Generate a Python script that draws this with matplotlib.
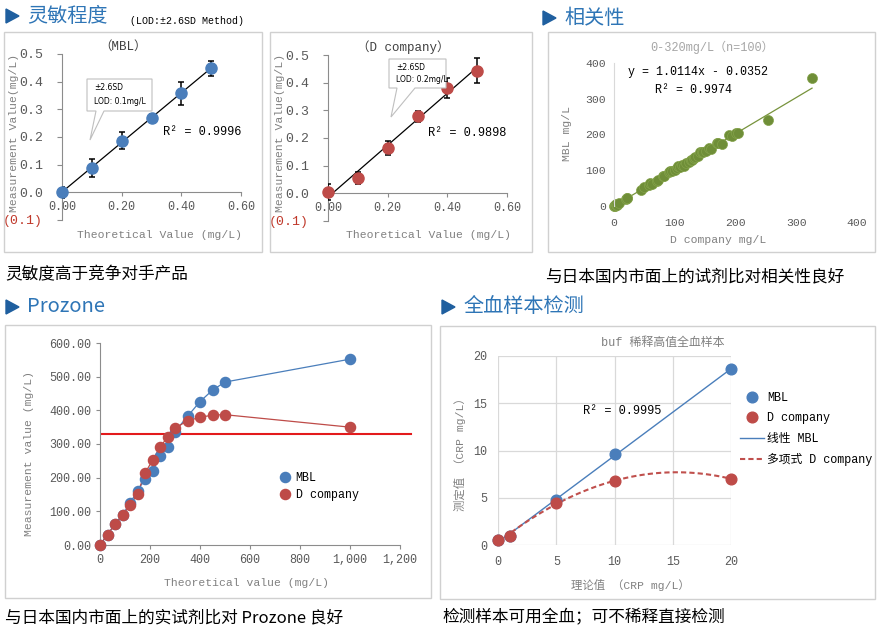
import numpy as np
import matplotlib
matplotlib.use('Agg')
import matplotlib.pyplot as plt
from matplotlib.patches import Polygon, Rectangle

plt.rcParams['font.family'] = ['Liberation Mono', 'Noto Sans CJK SC', 'DejaVu Sans']
plt.rcParams['font.size'] = 8.2
plt.rcParams['axes.unicode_minus'] = False

# ---- 灵敏程度 (LOD) ----
lod_x = [0, 0.1, 0.2, 0.3, 0.4, 0.5]
lod_mbl = [0.0, 0.088, 0.187, 0.269, 0.358, 0.449]
lod_mbl_err = [0.020, 0.031, 0.031, 0.015, 0.042, 0.027]
lod_dco = [0.004, 0.056, 0.163, 0.278, 0.381, 0.443]
lod_dco_err = [0.028, 0.021, 0.026, 0.020, 0.036, 0.046]

# ---- 相关性 ----
corr_dco = [0, 1, 2, 3, 4, 5, 8, 19, 21, 22, 45, 50, 57, 60, 62, 70, 72, 81, 83, 90,
            92, 95, 100, 103, 106, 108, 112, 115, 118, 124, 126, 128, 132, 134, 138,
            142, 145, 147, 152, 157, 160, 169, 172, 177, 190, 194, 201, 204, 253, 326]
corr_mbl = [0, 2, 1, 3, 5, 4, 7, 20, 21, 22, 45, 52, 60, 63, 62, 70, 72, 84, 85, 96,
            99, 97, 100, 105, 112, 108, 115, 113, 120, 124, 128, 130, 133, 138, 140,
            152, 150, 152, 155, 161, 160, 177, 175, 173, 198, 197, 203, 204, 240, 358]
corr_slope = 1.0114
corr_icpt = -0.0352

# ---- Prozone ----
pro_theo = [0, 30, 60, 90, 120, 150, 180, 210, 240, 270, 300, 350, 400, 450, 500, 1000]
pro_mbl = [0, 31, 62, 89, 125, 160, 197, 219, 263, 291, 337, 382, 426, 460, 484, 552]
pro_dco = [0, 31, 62, 89, 118, 152, 214, 251, 291, 320, 347, 369, 379, 386, 387, 350]
pro_cut = 330

# ---- 全血样本检测 ----
wb_theo = [0, 1, 5, 10, 20]
wb_mbl = [0.5, 0.9, 4.8, 9.6, 18.6]
wb_dco = [0.5, 0.9, 4.4, 6.8, 7.0]

BLUE = '#4A7EBB'
RED = '#BE4B48'
GREEN = '#77933C'
TICK = '#595959'
LABEL = '#808080'
SPINE = '#8C8C8C'
HEAD = '#2E75B6'
CJK = ['Noto Sans CJK SC', 'DejaVu Sans']

W, H = 881, 636
fig = plt.figure(figsize=(8.81, 6.36), dpi=100)


def px_axes(x0, y0, x1, y1):
    return fig.add_axes([x0 / W, 1 - y1 / H, (x1 - x0) / W, (y1 - y0) / H])


def lod_fmt(v):
    if v < -1e-9:
        return '({:.1f})'.format(-v)
    return '{:.1f}'.format(v)


def lod_panel(rect, y, err, color, title, tpos, r2, rpos, xl, yl):
    ax = px_axes(*rect)
    k, b = np.polyfit(lod_x, y, 1)
    xs = np.array([0, 0.5])
    ax.plot(xs, k * xs + b, color='black', lw=0.9, zorder=2)
    ax.errorbar(lod_x, y, yerr=err, fmt='none', ecolor='black', elinewidth=1.1,
                capsize=2.5, capthick=1.1, zorder=3)
    ax.plot(lod_x, y, 'o', ms=8, color=color, zorder=4, clip_on=False)
    ax.set_xlim(0, 0.6)
    ax.set_ylim(-0.1, 0.5)
    yt = [-0.1, 0, 0.1, 0.2, 0.3, 0.4, 0.5]
    ax.set_yticks(yt, labels=[lod_fmt(v) for v in yt])
    ax.yaxis.get_major_ticks()[0].label1.set_color('#C0392B')
    xt = [0, 0.2, 0.4, 0.6]
    ax.set_xticks(xt, labels=['{:.2f}'.format(v) for v in xt])
    ax.spines['bottom'].set_position(('data', 0))
    for s in ['top', 'right']:
        ax.spines[s].set_visible(False)
    for s in ['left', 'bottom']:
        ax.spines[s].set_color(SPINE)
    ax.tick_params(direction='out', length=3, color=SPINE, labelcolor=TICK, labelsize=8.5)
    ax.tick_params(axis='y', labelsize=9.5, length=3.6, pad=10)
    ax.yaxis.get_major_ticks()[0].label1.set_color('#C0392B')
    ax.text(tpos[0], tpos[1], title, transform=ax.transAxes, color='#404040', fontsize=9,
            ha='center', va='center')
    ax.text(rpos[0], rpos[1], r2, transform=ax.transAxes, fontsize=8.6, va='center')
    ax.set_xlabel('Theoretical Value (mg/L)', color=LABEL, va='center')
    ax.xaxis.set_label_coords(*xl)
    ax.set_ylabel('Measurement Value(mg/L)', color=LABEL, va='center')
    ax.yaxis.set_label_coords(*yl)
    return ax


ax1 = lod_panel((62, 54, 241, 220), lod_mbl, lod_mbl_err, BLUE, '（MBL）', (0.341, 1.042),
                'R² = 0.9996', (0.564, 0.53), (0.547, -0.09), (-0.27, 0.524))
ax2 = lod_panel((328, 55, 507, 221), lod_dco, lod_dco_err, RED, '（D company）', (0.419, 1.048),
                'R² = 0.9898', (0.559, 0.53), (0.559, -0.084), (-0.27, 0.53))

# correlation
ax3 = px_axes(614, 63, 857, 206)
xs = np.array([0, max(corr_dco)])
ax3.plot(xs, corr_slope * xs + corr_icpt, color=GREEN, lw=0.9, zorder=1)
ax3.scatter(corr_dco, corr_mbl, s=52, color='#6F8E38', edgecolor='#84A24A', lw=0.5,
            zorder=2, clip_on=False)
ax3.set_xlim(0, 400)
ax3.set_ylim(0, 400)
ax3.set_xticks([0, 100, 200, 300, 400])
ax3.set_yticks([0, 100, 200, 300, 400])
for s in ['top', 'right', 'bottom']:
    ax3.spines[s].set_visible(False)
ax3.spines['left'].set_color('#D9D9D9')
ax3.tick_params(length=0, labelcolor=TICK, pad=6)
ax3.tick_params(axis='x', pad=9)
ax3.text(0.403, 1.112, '0-320mg/L（n=100）', transform=ax3.transAxes, color='#A6A6A6',
         fontsize=8.6, ha='center', va='center')
ax3.text(0.058, 0.937, 'y = 1.0114x - 0.0352', transform=ax3.transAxes, va='center', fontsize=8.4)
ax3.text(0.169, 0.811, 'R² = 0.9974', transform=ax3.transAxes, va='center', fontsize=8.4)
ax3.set_xlabel('D company mg/L', color=LABEL, va='center')
ax3.xaxis.set_label_coords(0.428, -0.238)
ax3.set_ylabel('MBL mg/L', color=LABEL, va='center')
ax3.yaxis.set_label_coords(-0.193, 0.51)

# prozone
ax4 = px_axes(100, 343, 400, 545)
ax4.axhline(pro_cut, xmin=0.005, xmax=1.036, color='#E31A1C', lw=1.5, clip_on=False, zorder=1)
ax4.plot(pro_theo, pro_mbl, '-', color=BLUE, lw=0.9, zorder=2)
ax4.plot(pro_theo, pro_dco, '-', color=RED, lw=0.9, zorder=2)
ax4.plot(pro_theo, pro_mbl, 'o', ls='none', ms=7.3, color=BLUE, label='MBL', zorder=3, clip_on=False)
ax4.plot(pro_theo, pro_dco, 'o', ls='none', ms=7.3, color=RED, label='D company', zorder=4, clip_on=False)
ax4.set_xlim(0, 1200)
ax4.set_ylim(0, 600)
ax4.set_xticks(range(0, 1201, 200), labels=['{:,}'.format(v) for v in range(0, 1201, 200)])
ax4.set_yticks(range(0, 601, 100), labels=['{:.2f}'.format(v) for v in range(0, 601, 100)])
for s in ['top', 'right']:
    ax4.spines[s].set_visible(False)
for s in ['left', 'bottom']:
    ax4.spines[s].set_color(SPINE)
ax4.tick_params(direction='out', length=3, color=SPINE, labelcolor=TICK, labelsize=8.5)
ax4.set_xlabel('Theoretical value (mg/L)', color=LABEL, va='center')
ax4.xaxis.set_label_coords(0.49, -0.188)
ax4.set_ylabel('Measurement value (mg/L)', color=LABEL, va='center')
ax4.yaxis.set_label_coords(-0.237, 0.455)
ax4.legend(loc='upper left', bbox_to_anchor=(0.598, 0.36), frameon=False, fontsize=8.4,
           handlelength=1.0, handletextpad=0.4, labelspacing=0.4, borderpad=0, borderaxespad=0)

# whole blood
ax5 = px_axes(498, 356, 731, 545)
ax5.plot(wb_theo, wb_mbl, 'o', ls='none', ms=7.7, color=BLUE, label='MBL', zorder=4, clip_on=False)
ax5.plot(wb_theo, wb_dco, 'o', ls='none', ms=7.7, color=RED, label='D company', zorder=5, clip_on=False)
xs = np.linspace(0, 20, 100)
k, b = np.polyfit(wb_theo, wb_mbl, 1)
ax5.plot(xs, k * xs + b, color=BLUE, lw=1.0, label='线性 MBL', zorder=2)
c = np.polyfit(wb_theo, wb_dco, 2)
ax5.plot(xs, np.polyval(c, xs), color='#C0504D', lw=1.5, dashes=(2.5, 1.5),
         label='多项式 D company', zorder=3)
ax5.set_xlim(0, 20)
ax5.set_ylim(0, 20)
ax5.set_xticks([0, 5, 10, 15, 20])
ax5.set_yticks([0, 5, 10, 15, 20])
ax5.grid(color='#D9D9D9', lw=0.9)
ax5.set_axisbelow(True)
for s in ax5.spines.values():
    s.set_visible(False)
ax5.tick_params(length=0, labelcolor=TICK, pad=8, labelsize=8.5)
ax5.text(0.708, 1.069, 'buf 稀释高值全血样本', transform=ax5.transAxes, color='#808080',
         fontsize=8.6, ha='center', va='center')
ax5.text(0.365, 0.709, 'R² = 0.9995', transform=ax5.transAxes, va='center', fontsize=8.6)
ax5.set_xlabel('理论值 （CRP mg/L）', color=LABEL, va='center')
ax5.xaxis.set_label_coords(0.567, -0.212)
ax5.set_ylabel('测定值 （CRP mg/L）', color=LABEL, va='center')
ax5.yaxis.set_label_coords(-0.163, 0.492)
ax5.legend(loc='upper left', bbox_to_anchor=(1.039, 0.81), frameon=False, fontsize=8.5,
           handlelength=2.0, handletextpad=0.3, labelspacing=0.72, borderpad=0, borderaxespad=0)

# overlay: frames, headings, callouts, captions
ov = fig.add_axes([0, 0, 1, 1])
ov.set_xlim(0, W)
ov.set_ylim(H, 0)
ov.axis('off')
for x0, y0, x1, y1 in [(4, 32, 262, 252), (270, 32, 532, 252), (548, 32, 875, 252),
                       (5, 325, 431, 598), (440, 326, 875, 599)]:
    ov.add_patch(Rectangle((x0, y0), x1 - x0, y1 - y0, fill=False, ec='#D0D0D0', lw=1))

for tx, ty, label in [(6, 16, '灵敏程度'), (543, 18, '相关性'), (6, 307, 'Prozone'), (442, 307, '全血样本检测')]:
    ov.add_patch(Polygon([(tx, ty - 7), (tx, ty + 7), (tx + 13, ty)], closed=True, color='#1F5F9F'))
    ov.text(tx + 21, ty, label, family=CJK, fontsize=14.5, color=HEAD, va='center')
ov.text(130, 21, '(LOD:±2.6SD Method)', fontsize=7.2, va='center')

for (x0, y0, x1, y1, b0, b1, tip, lod) in [
        (87, 79, 152, 111, 96, 104, (90, 140), 'LOD: 0.1mg/L'),
        (389, 59, 446, 88, 397, 415, (391, 117), 'LOD: 0.2mg/L')]:
    ov.add_patch(Polygon([(x0, y0), (x1, y0), (x1, y1), (b1, y1), tip, (b0, y1), (x0, y1)],
                         closed=True, fc='white', ec='#BFBFBF', lw=0.8))
    ov.text(x0 + 7, y0 + 8, '±2.6SD', family=['DejaVu Sans'], fontsize=5.5, va='center')
    ov.text(x0 + 7, y0 + 22 if y1 - y0 > 30 else y0 + 20, lod, family=['DejaVu Sans'],
            fontsize=5.5, va='center')

ov.text(5, 275, '灵敏度高于竞争对手产品', family=CJK, fontsize=12, va='center')
ov.text(545, 277, '与日本国内市面上的试剂比对相关性良好', family=CJK, fontsize=12, va='center')
ov.text(5, 618, '与日本国内市面上的实试剂比对 Prozone 良好', family=CJK, fontsize=12, va='center')
ov.text(442, 618, '检测样本可用全血；可不稀释直接检测', family=CJK, fontsize=12, va='center')

fig.savefig('out.png', dpi=100)
